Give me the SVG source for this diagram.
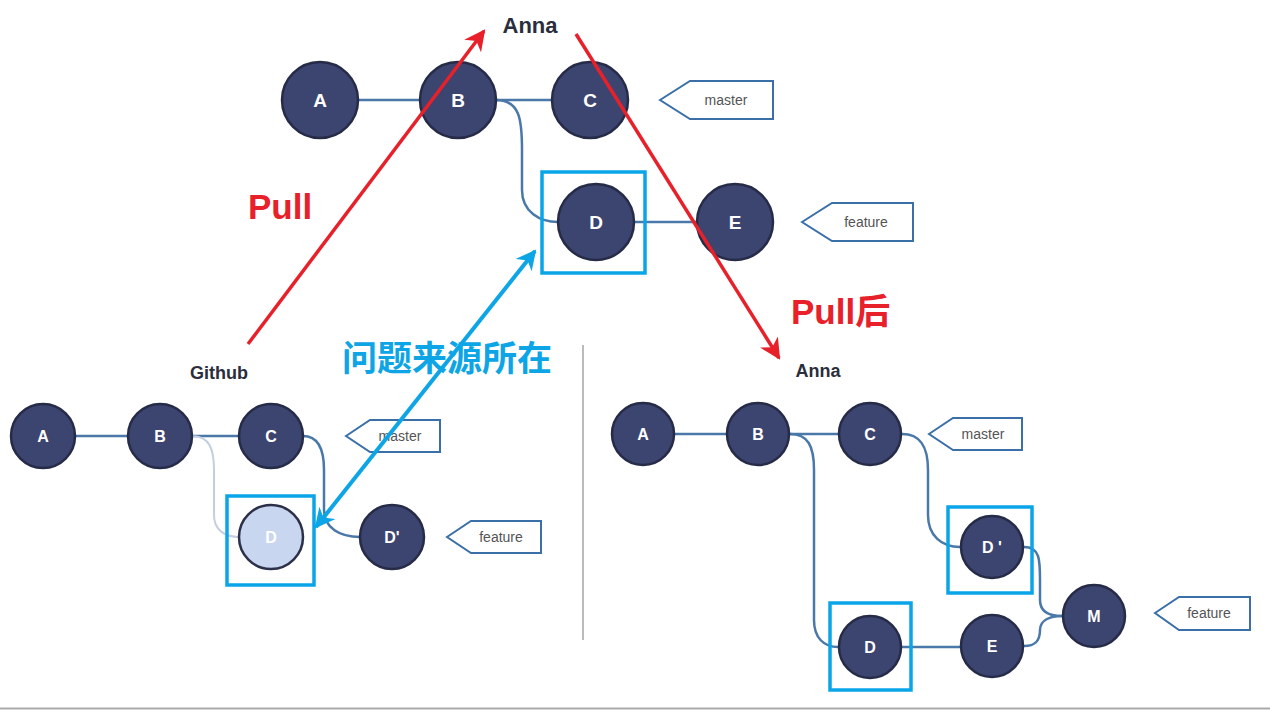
<svg xmlns="http://www.w3.org/2000/svg" width="1270" height="710" viewBox="0 0 1270 710">
<style>
.n{fill:#3c4470;stroke:#262c48;stroke-width:2.5}
.nl{fill:#c8d6f0;stroke:#2c3048;stroke-width:2.5}
.t{font-family:"Liberation Sans",Arial,sans-serif;font-weight:bold;fill:#ffffff;text-anchor:middle;dominant-baseline:central}
.big{font-size:19px}
.sm{font-size:16px}
.e{fill:none;stroke:#4a78a8;stroke-width:2.5}
.ef{fill:none;stroke:#c4cee0;stroke-width:2}
.tag{fill:#ffffff;stroke:#3a6fa8;stroke-width:2}
.tt{font-family:"Liberation Sans",Arial,sans-serif;fill:#555555;text-anchor:middle;dominant-baseline:central;font-size:14px}
.ttl{font-family:"Liberation Sans",Arial,sans-serif;fill:#2a2e3c;font-weight:bold;text-anchor:middle}
.box{fill:none;stroke:#0aa5e8;stroke-width:3.5}
.red{stroke:#e8202a;stroke-width:3.5;fill:none}
.blue{stroke:#0ea5e6;stroke-width:4;fill:none}
.lab{font-family:"Liberation Sans","Noto Sans CJK SC",sans-serif;font-weight:bold;font-size:35px}
</style>
<defs>
<marker id="ar" viewBox="0 0 10 10" refX="9" refY="5" markerWidth="6" markerHeight="6" orient="auto-start-reverse" markerUnits="strokeWidth">
<path d="M0,0 L10,5 L0,10 L3,5 z" fill="#e8202a"/>
</marker>
<marker id="ab" viewBox="0 0 10 10" refX="9" refY="5" markerWidth="5" markerHeight="5" orient="auto-start-reverse" markerUnits="strokeWidth">
<path d="M0,0 L10,5 L0,10 L3,5 z" fill="#0ea5e6"/>
</marker>
</defs>
<rect width="1270" height="710" fill="#ffffff"/>

<!-- separator -->
<line x1="583" y1="345" x2="583" y2="640" stroke="#bbbbbb" stroke-width="2"/>
<line x1="0" y1="708.5" x2="1270" y2="708.5" stroke="#aaaaaa" stroke-width="2"/>

<g id="connectors">
<!-- top -->
<path class="e" d="M358,100 H420"/>
<path class="e" d="M496,100 H552"/>
<path class="e" d="M496,100 C520,100 522,120 522,150 V190 C522,212 540,222 558,222"/>
<path class="e" d="M634,222 H697"/>
<!-- github -->
<path class="e" d="M75,436 H128"/>
<path class="e" d="M192,436 H239"/>
<path class="ef" d="M192,436 C210,436 214,450 214,470 V515 C214,530 225,537 239,537"/>
<path class="e" d="M303,436 C318,436 324,448 324,470 V510 C324,528 340,537 360,537"/>
<!-- right anna -->
<path class="e" d="M675,434 H726"/>
<path class="e" d="M790,434 H838"/>
<path class="e" d="M790,434 C808,434 814,446 814,470 V620 C814,638 824,647 838,647"/>
<path class="e" d="M902,434 C920,434 928,446 928,470 V515 C928,536 942,547 960,547"/>
<path class="e" d="M902,647 H960"/>
<path class="e" d="M1024,547 C1040,547 1040,560 1040,580 V600 C1040,612 1050,616 1062,616"/>
<path class="e" d="M1024,646 C1036,646 1040,640 1040,630 C1040,620 1050,616 1062,616"/>
</g>

<!-- top Anna -->
<text class="ttl" x="530" y="33" font-size="22">Anna</text>
<g id="top-A"><circle class="n" cx="320" cy="100" r="38"/><text class="t big" x="320" y="100">A</text></g>
<g id="top-B"><circle class="n" cx="458" cy="100" r="38"/><text class="t big" x="458" y="100">B</text></g>
<g id="top-C"><circle class="n" cx="590" cy="100" r="38"/><text class="t big" x="590" y="100">C</text></g>
<g id="top-D"><circle class="n" cx="596" cy="222" r="38"/><text class="t big" x="596" y="222">D</text></g>
<g id="top-E"><circle class="n" cx="735" cy="222" r="38"/><text class="t big" x="735" y="222">E</text></g>
<g id="top-master"><path class="tag" d="M660,100 L690,81 H773 V119 H690 Z"/><text class="tt" x="726" y="100">master</text></g>
<g id="top-feature"><path class="tag" d="M802,222 L832,203 H913 V241 H832 Z"/><text class="tt" x="866" y="222">feature</text></g>
<rect id="top-box" class="box" x="542" y="172" width="103" height="101"/>

<!-- Github -->
<text class="ttl" x="219" y="379" font-size="18">Github</text>
<g id="gh-A"><circle class="n" cx="43" cy="436" r="32"/><text class="t sm" x="43" y="436">A</text></g>
<g id="gh-B"><circle class="n" cx="160" cy="436" r="32"/><text class="t sm" x="160" y="436">B</text></g>
<g id="gh-C"><circle class="n" cx="271" cy="436" r="32"/><text class="t sm" x="271" y="436">C</text></g>
<g id="gh-D"><circle class="nl" cx="271" cy="537" r="32"/><text class="t sm" x="271" y="537" fill="#eef2fa">D</text></g>
<g id="gh-Dp"><circle class="n" cx="392" cy="537" r="32"/><text class="t sm" x="392" y="537">D'</text></g>
<g id="gh-master"><path class="tag" d="M346,436 L370,420 H440 V452 H370 Z"/><text class="tt" x="400" y="436" font-size="13">master</text></g>
<g id="gh-feature"><path class="tag" d="M447,537 L471,521 H541 V553 H471 Z"/><text class="tt" x="501" y="537" font-size="13">feature</text></g>
<rect id="gh-box" class="box" x="227" y="496" width="87" height="89"/>

<!-- right Anna -->
<text class="ttl" x="818" y="377" font-size="18">Anna</text>
<g id="r-A"><circle class="n" cx="643" cy="434" r="31"/><text class="t sm" x="643" y="434">A</text></g>
<g id="r-B"><circle class="n" cx="758" cy="434" r="31"/><text class="t sm" x="758" y="434">B</text></g>
<g id="r-C"><circle class="n" cx="870" cy="434" r="31"/><text class="t sm" x="870" y="434">C</text></g>
<g id="r-Dp"><circle class="n" cx="992" cy="547" r="31"/><text class="t sm" x="992" y="547">D '</text></g>
<g id="r-D"><circle class="n" cx="870" cy="647" r="31"/><text class="t sm" x="870" y="647">D</text></g>
<g id="r-E"><circle class="n" cx="992" cy="646" r="31"/><text class="t sm" x="992" y="646">E</text></g>
<g id="r-M"><circle class="n" cx="1094" cy="616" r="31"/><text class="t sm" x="1094" y="616">M</text></g>
<g id="r-master"><path class="tag" d="M929,434 L953,418 H1022 V450 H953 Z"/><text class="tt" x="983" y="434" font-size="13">master</text></g>
<g id="r-feature"><path class="tag" d="M1155,613 L1179,597 H1250 V630 H1179 Z"/><text class="tt" x="1209" y="613" font-size="13">feature</text></g>
<rect id="r-box1" class="box" x="948" y="507" width="84" height="86"/>
<rect id="r-box2" class="box" x="830" y="603" width="81" height="87"/>

<!-- arrows -->
<g id="arrows">
<line class="red" x1="248" y1="344" x2="484" y2="31" marker-end="url(#ar)"/>
<line class="red" x1="576" y1="34" x2="779" y2="358" marker-end="url(#ar)"/>
<line class="blue" x1="316" y1="527" x2="535" y2="251" marker-start="url(#ab)" marker-end="url(#ab)"/>
</g>

<text class="lab" x="248" y="219" fill="#e8202a">Pull</text>
<text class="lab" x="791" y="324" fill="#e8202a">Pull后</text>
<text class="lab" x="342" y="371" fill="#0ea5e6">问题来源所在</text>
</svg>
